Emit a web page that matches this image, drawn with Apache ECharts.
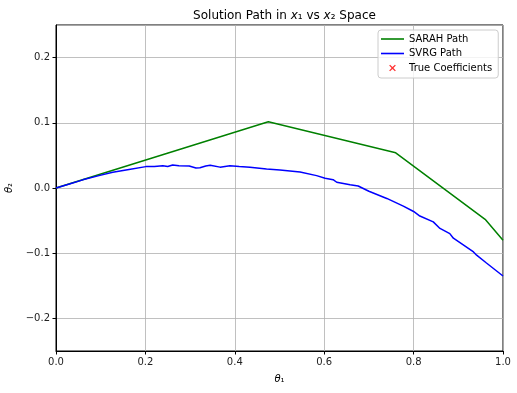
<!DOCTYPE html>
<html>
<head>
<meta charset="utf-8">
<script src="https://cdn.jsdelivr.net/npm/echarts@6/dist/echarts.min.js"></script>
<style>
html,body{margin:0;padding:0;background:#fff;}
#c{width:517px;height:393px;}
</style>
</head>
<body>
<div id="c"></div>
<script>
// SARAH path (theta1, theta2)
const sarahX = [0, 0.475, 0.76, 0.96, 1.0];
const sarahY = [0, 0.1015, 0.054, -0.048, -0.08];

// SVRG path (theta1, theta2)
const svrgX = [0, 0.03, 0.06, 0.096, 0.127, 0.16, 0.201, 0.22, 0.239, 0.25, 0.261, 0.275, 0.298, 0.313, 0.322, 0.335, 0.345, 0.367, 0.389, 0.41, 0.434, 0.471, 0.501, 0.546, 0.583, 0.602, 0.62, 0.628, 0.658, 0.676, 0.7, 0.74, 0.777, 0.8, 0.814, 0.844, 0.859, 0.881, 0.889, 0.934, 0.941, 0.963, 1.0];
const svrgY = [0, 0.006, 0.0125, 0.019, 0.024, 0.028, 0.0328, 0.033, 0.0343, 0.033, 0.0354, 0.034, 0.0338, 0.0308, 0.031, 0.0338, 0.035, 0.032, 0.034, 0.033, 0.032, 0.029, 0.0277, 0.0246, 0.019, 0.015, 0.0128, 0.0088, 0.005, 0.003, -0.005, -0.016, -0.0277, -0.036, -0.043, -0.052, -0.062, -0.070, -0.077, -0.098, -0.103, -0.115, -0.135];

// True coefficients (outside visible range)
const trueX = [];
const trueY = [];

const seriesNames = ['SARAH Path', 'SVRG Path', 'True Coefficients'];

const xRange = [0, 1];
const yRange = [-0.25, 0.25];

function zip(a, b) { return a.map((v, i) => [v, b[i]]); }
function fmt(v) { return v.toFixed(1).replace('-', '\u2212'); }

const FONT = 'DejaVu Sans';
const xIcon = 'path://M-2.5,-2.5L-2.5,-2.5Z M12.5,12.5L12.5,12.5Z M0,1.4L1.4,0L5,3.6L8.6,0L10,1.4L6.4,5L10,8.6L8.6,10L5,6.4L1.4,10L0,8.6L3.6,5Z';
const lineIcon = 'path://M0,0L46,0L46,3.2L0,3.2Z';

const chart = echarts.init(document.getElementById('c'), null, {renderer: 'canvas'});
chart.setOption({
  animation: false,
  backgroundColor: '#fff',
  textStyle: {fontFamily: FONT},
  title: {
    text: '{n|Solution Path in }{i|x}{n|\u2081 vs }{i|x}{n|\u2082 Space}',
    left: 279.5, top: 5, textAlign: 'center',
    textStyle: {
      fontWeight: 'normal',
      rich: {
        n: {fontFamily: FONT, fontSize: 12, fontWeight: 'normal', color: '#000'},
        i: {fontFamily: FONT, fontSize: 12, fontStyle: 'italic', fontWeight: 'normal', color: '#000'}
      }
    }
  },
  grid: {left: 56, right: 14, top: 25, bottom: 42, show: true, borderColor: '#000', borderWidth: 1, backgroundColor: 'transparent', containLabel: false, outerBoundsMode: 'none'},
  legend: {
    orient: 'vertical', left: 378, top: 30,
    padding: [4, 6, 5, 3],
    itemWidth: 23, itemHeight: 10, itemGap: 4.5,
    backgroundColor: 'rgba(255,255,255,0.8)', borderColor: '#ccc', borderWidth: 1, borderRadius: 3,
    textStyle: {fontFamily: FONT, fontSize: 10, color: '#000'},
    data: [
      {name: seriesNames[0], icon: lineIcon},
      {name: seriesNames[1], icon: lineIcon},
      {name: seriesNames[2], icon: xIcon}
    ]
  },
  xAxis: {
    type: 'value', min: xRange[0], max: xRange[1], interval: 0.2,
    name: '{i|\u03b8}{n|\u2081}', nameLocation: 'middle', nameGap: 23,
    nameTextStyle: {rich: {i: {fontFamily: FONT, fontSize: 10, fontStyle: 'italic', color: '#000'}, n: {fontFamily: FONT, fontSize: 10, color: '#000'}}},
    axisLine: {onZero: false, lineStyle: {color: '#000', width: 1}},
    axisTick: {show: true, inside: false, length: 3.5, lineStyle: {color: '#000'}},
    axisLabel: {formatter: fmt, fontFamily: FONT, fontSize: 10, color: '#222', margin: 6},
    splitLine: {show: true, lineStyle: {color: '#b0b0b0', width: 0.8}}
  },
  yAxis: {
    type: 'value', min: yRange[0], max: yRange[1], splitNumber: 5,
    name: '{i|\u03b8}{n|\u2082}', nameLocation: 'middle', nameGap: 38, nameRotate: 90,
    nameTextStyle: {rich: {i: {fontFamily: FONT, fontSize: 10, fontStyle: 'italic', color: '#000'}, n: {fontFamily: FONT, fontSize: 10, color: '#000'}}},
    axisLine: {onZero: false, lineStyle: {color: '#000', width: 1}},
    axisTick: {show: true, inside: false, length: 3.5, lineStyle: {color: '#000'}},
    axisLabel: {formatter: fmt, fontFamily: FONT, fontSize: 10, color: '#222', margin: 6, showMinLabel: false, showMaxLabel: false},
    splitLine: {show: true, lineStyle: {color: '#b0b0b0', width: 0.8}}
  },
  series: [
    {name: seriesNames[0], type: 'line', data: zip(sarahX, sarahY), symbol: 'none', color: '#008000', lineStyle: {width: 1.5, color: '#008000'}, clip: true, z: 3},
    {name: seriesNames[1], type: 'line', data: zip(svrgX, svrgY), symbol: 'none', color: '#0000ff', lineStyle: {width: 1.5, color: '#0000ff'}, clip: true, z: 4},
    {name: seriesNames[2], type: 'scatter', data: zip(trueX, trueY), symbol: xIcon, symbolSize: 8, color: '#ff0000', itemStyle: {color: '#ff0000'}, z: 5}
  ]
});
</script>
</body>
</html>
